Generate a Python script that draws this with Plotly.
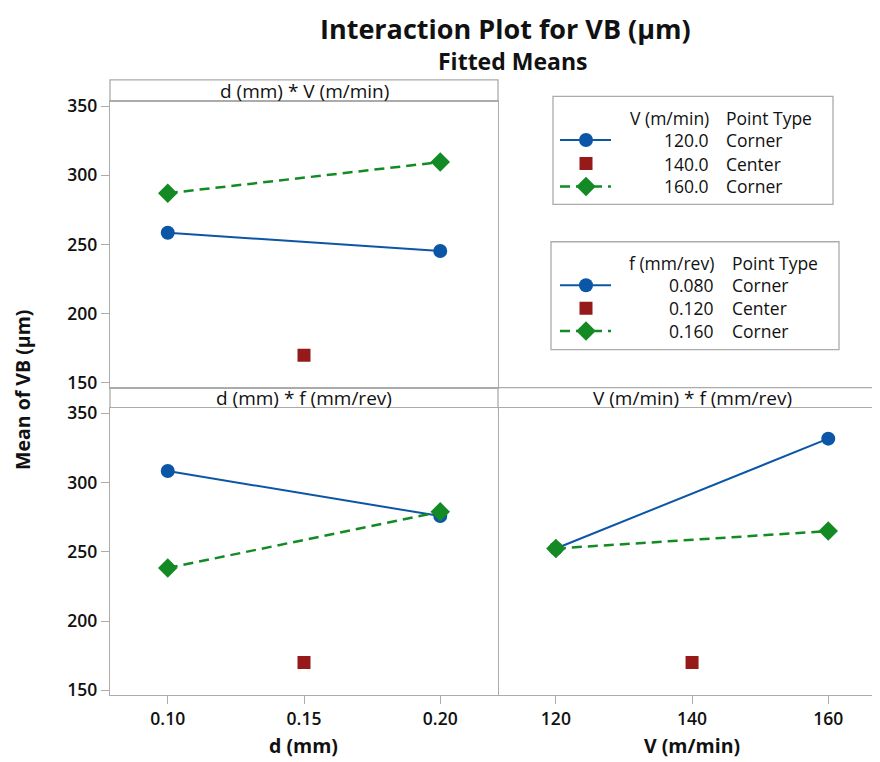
import plotly.graph_objects as go

# ---------------- data ----------------
d_levels = [0.10, 0.20]
d_center = [0.15]
V_levels = [120, 160]
V_center = [140]

# d * V panel
dV_V120 = [258.5, 245.3]
dV_V160 = [287.1, 309.6]
dV_center = [170.0]

# d * f panel
df_f008 = [308.2, 275.7]
df_f016 = [238.2, 278.8]
df_center = [170.0]

# V * f panel
Vf_f008 = [252.3, 331.6]
Vf_f016 = [252.3, 264.9]
Vf_center = [170.0]

y_ticks = [150, 200, 250, 300, 350]
d_ticks = [0.10, 0.15, 0.20]
d_ticklabels = ["0.10", "0.15", "0.20"]
V_ticks = [120, 140, 160]
V_ticklabels = ["120", "140", "160"]

legend1_title = ["V (m/min)", "Point Type"]
legend1_rows = [["120.0", "Corner"], ["140.0", "Center"], ["160.0", "Corner"]]
legend2_title = ["f (mm/rev)", "Point Type"]
legend2_rows = [["0.080", "Corner"], ["0.120", "Center"], ["0.160", "Corner"]]

# ---------------- style ----------------
OFF = 8                      # default page body margin
W, H = 880 - OFF, 762 - OFF
BLUE = "#0b56a6"
RED = "#961a1a"
GREEN = "#138a24"
GRID = "#ababab"
FONT = "Open Sans"
INK = "#111111"


def px(x):
    return (x - OFF) / W


def py(y):
    return 1 - (y - OFF) / H


fig = go.Figure()

blue_style = dict(mode="lines+markers", line=dict(color=BLUE, width=2),
                  marker=dict(symbol="circle", size=14, color=BLUE), showlegend=False,
                  hoverinfo="skip")
green_style = dict(mode="lines+markers", line=dict(color=GREEN, width=2.5, dash="10px,6px"),
                   marker=dict(symbol="diamond", size=15, color=GREEN), showlegend=False,
                   hoverinfo="skip")
red_style = dict(mode="markers", marker=dict(symbol="square", size=13, color=RED),
                 showlegend=False, hoverinfo="skip")

# Top-left: d * V
fig.add_trace(go.Scatter(x=d_levels, y=dV_V120, xaxis="x", yaxis="y", **blue_style))
fig.add_trace(go.Scatter(x=d_center, y=dV_center, xaxis="x", yaxis="y", **red_style))
fig.add_trace(go.Scatter(x=d_levels, y=dV_V160, xaxis="x", yaxis="y", **green_style))
# Bottom-left: d * f
fig.add_trace(go.Scatter(x=d_levels, y=df_f008, xaxis="x2", yaxis="y2", **blue_style))
fig.add_trace(go.Scatter(x=d_center, y=df_center, xaxis="x2", yaxis="y2", **red_style))
fig.add_trace(go.Scatter(x=d_levels, y=df_f016, xaxis="x2", yaxis="y2", **green_style))
# Bottom-right: V * f
fig.add_trace(go.Scatter(x=V_levels, y=Vf_f008, xaxis="x3", yaxis="y3", **blue_style))
fig.add_trace(go.Scatter(x=V_center, y=Vf_center, xaxis="x3", yaxis="y3", **red_style))
fig.add_trace(go.Scatter(x=V_levels, y=Vf_f016, xaxis="x3", yaxis="y3", **green_style))

# ---------------- legends (in a hidden pixel-space axis) ----------------
leg_x_line = [560, 611]
leg_x_mark = 586
leg1_rows_y = [134.3, 158.3, 181.7]
leg2_rows_y = [282.3, 305.7, 329]
for rows_y in (leg1_rows_y, leg2_rows_y):
    fig.add_trace(go.Scatter(x=leg_x_line, y=[rows_y[0]] * 2, xaxis="x4", yaxis="y4",
                             mode="lines", line=dict(color=BLUE, width=2),
                             showlegend=False, hoverinfo="skip"))
    fig.add_trace(go.Scatter(x=[leg_x_mark], y=[rows_y[0]], xaxis="x4", yaxis="y4",
                             mode="markers", marker=dict(symbol="circle", size=14, color=BLUE),
                             showlegend=False, hoverinfo="skip"))
    fig.add_trace(go.Scatter(x=[leg_x_mark], y=[rows_y[1]], xaxis="x4", yaxis="y4",
                             mode="markers", marker=dict(symbol="square", size=13, color=RED),
                             showlegend=False, hoverinfo="skip"))
    fig.add_trace(go.Scatter(x=leg_x_line, y=[rows_y[2]] * 2, xaxis="x4", yaxis="y4",
                             mode="lines", line=dict(color=GREEN, width=2.5, dash="10px,6px"),
                             showlegend=False, hoverinfo="skip"))
    fig.add_trace(go.Scatter(x=[leg_x_mark], y=[rows_y[2]], xaxis="x4", yaxis="y4",
                             mode="markers", marker=dict(symbol="diamond", size=15, color=GREEN),
                             showlegend=False, hoverinfo="skip"))

# ---------------- axes ----------------
YRANGE = [146.5, 353.5]
tick_font = dict(family=FONT, size=17.5, color=INK, weight=600)
common_y = dict(range=YRANGE, tickvals=y_ticks, ticks="outside", ticklen=8, tickwidth=1.3,
                tickcolor=GRID, showline=True, linecolor=GRID, linewidth=1.3, mirror=True,
                showgrid=False, zeroline=False, tickfont=tick_font, fixedrange=True)

L, M, R = 110, 498, 880
TL_top, TL_bot = 95, 386.7
B_top, B_bot = 407.7, 700

fig.update_layout(
    xaxis=dict(domain=[px(L), px(M)], range=[0.0788, 0.2212], anchor="y",
               showticklabels=False, ticks="", showline=True, linecolor=GRID, linewidth=1.3,
               mirror=True, showgrid=False, zeroline=False),
    yaxis=dict(domain=[py(TL_bot), py(TL_top)], anchor="x", **common_y),
    xaxis2=dict(domain=[px(L), px(M)], range=[0.0788, 0.2212], anchor="y2",
                tickvals=d_ticks, ticktext=d_ticklabels, ticks="outside", ticklen=8,
                tickwidth=1.3, tickcolor=GRID, showline=True, linecolor=GRID, linewidth=1.3,
                mirror=True, showgrid=False, zeroline=False, tickfont=tick_font),
    yaxis2=dict(domain=[py(B_bot), py(B_top)], anchor="x2", **common_y),
    xaxis3=dict(domain=[px(M), 1.0], range=[111.5, 167.6], anchor="y3",
                tickvals=V_ticks, ticktext=V_ticklabels, ticks="outside", ticklen=8,
                tickwidth=1.3, tickcolor=GRID, showline=True, linecolor=GRID, linewidth=1.3,
                mirror=True, showgrid=False, zeroline=False, tickfont=tick_font),
    yaxis3=dict(domain=[py(B_bot), py(B_top)], anchor="x3", range=YRANGE, showline=False,
                showticklabels=False, ticks="", showgrid=False, zeroline=False),
    xaxis4=dict(domain=[px(M), 1.0], range=[M, R], visible=False, fixedrange=True),
    yaxis4=dict(domain=[py(TL_bot), py(73)], range=[TL_bot, 73], visible=False, fixedrange=True),
    width=W, height=H,
    margin=dict(l=0, r=0, t=0, b=0),
    paper_bgcolor="white", plot_bgcolor="rgba(0,0,0,0)",
    font=dict(family=FONT, color=INK),
)

shapes = []
# header of top-left panel
shapes.append(dict(type="rect", xref="paper", yref="paper", x0=px(L), x1=px(M), y0=py(TL_top), y1=py(73),
                   line=dict(color=GRID, width=1.3)))
# header strip of bottom panels
shapes.append(dict(type="line", xref="paper", yref="paper", x0=px(L), x1=1.0, y0=py(TL_bot), y1=py(TL_bot),
                   line=dict(color=GRID, width=1.3)))
shapes.append(dict(type="line", xref="paper", yref="paper", x0=px(L), x1=px(L), y0=py(TL_bot), y1=py(B_top),
                   line=dict(color=GRID, width=1.3)))
shapes.append(dict(type="line", xref="paper", yref="paper", x0=px(M), x1=px(M), y0=py(TL_bot), y1=py(B_top),
                   line=dict(color=GRID, width=1.3)))
# legend boxes
shapes.append(dict(type="rect", xref="x4", yref="y4", x0=553, x1=833, y0=90, y1=200,
                   line=dict(color=GRID, width=1.3)))
shapes.append(dict(type="rect", xref="x4", yref="y4", x0=551, x1=839, y0=238, y1=348,
                   line=dict(color=GRID, width=1.3)))

annotations = []
annotations.append(dict(text="<b>Interaction Plot for VB (µm)</b>", xref="paper", yref="paper",
                        x=px(506), y=py(21), xanchor="center", yanchor="middle", showarrow=False,
                        font=dict(family=FONT, size=27, color=INK)))
annotations.append(dict(text="<b>Fitted Means</b>", xref="paper", yref="paper",
                        x=px(512), y=py(54), xanchor="center", yanchor="middle", showarrow=False,
                        font=dict(family=FONT, size=23, color=INK)))
annotations.append(dict(text="<b>Mean of VB (µm)</b>", xref="paper", yref="paper",
                        x=px(23), y=py(389), xanchor="center", yanchor="middle", showarrow=False,
                        textangle=-90, font=dict(family=FONT, size=19.5, color=INK)))
annotations.append(dict(text="<b>d (mm)</b>", xref="paper", yref="paper",
                        x=px(303), y=py(751), xanchor="center", yanchor="middle", showarrow=False,
                        font=dict(family=FONT, size=19.5, color=INK)))
annotations.append(dict(text="<b>V (m/min)</b>", xref="paper", yref="paper",
                        x=px(692), y=py(751), xanchor="center", yanchor="middle", showarrow=False,
                        font=dict(family=FONT, size=19.5, color=INK)))
hdr_font = dict(family=FONT, size=19, color=INK)
annotations.append(dict(text="d (mm) * V (m/min)", xref="paper", yref="paper",
                        x=px((L + M) / 2), y=py(84), xanchor="center", yanchor="middle",
                        showarrow=False, font=hdr_font))
annotations.append(dict(text="d (mm) * f (mm/rev)", xref="paper", yref="paper",
                        x=px((L + M) / 2), y=py(397.5), xanchor="center", yanchor="middle",
                        showarrow=False, font=hdr_font))
annotations.append(dict(text="V (m/min) * f (mm/rev)", xref="paper", yref="paper",
                        x=px(692), y=py(397.5), xanchor="center", yanchor="middle",
                        showarrow=False, font=hdr_font))

leg_font = dict(family=FONT, size=17.5, color=INK)
for title, rows, ys, hdr_y, val_right, col2_left in (
        (legend1_title, legend1_rows, leg1_rows_y, 111.7, 711, 724),
        (legend2_title, legend2_rows, leg2_rows_y, 259.3, 716, 730)):
    annotations.append(dict(text=title[0], xref="x4", yref="y4", x=val_right, y=hdr_y,
                            xanchor="right", yanchor="middle", showarrow=False, font=leg_font))
    annotations.append(dict(text=title[1], xref="x4", yref="y4", x=col2_left, y=hdr_y,
                            xanchor="left", yanchor="middle", showarrow=False, font=leg_font))
    for (val, ptype), yy in zip(rows, ys):
        annotations.append(dict(text=val, xref="x4", yref="y4", x=val_right, y=yy,
                                xanchor="right", yanchor="middle", showarrow=False, font=leg_font))
        annotations.append(dict(text=ptype, xref="x4", yref="y4", x=col2_left, y=yy,
                                xanchor="left", yanchor="middle", showarrow=False, font=leg_font))

fig.update_layout(shapes=shapes, annotations=annotations)
fig.write_html("out.html")
